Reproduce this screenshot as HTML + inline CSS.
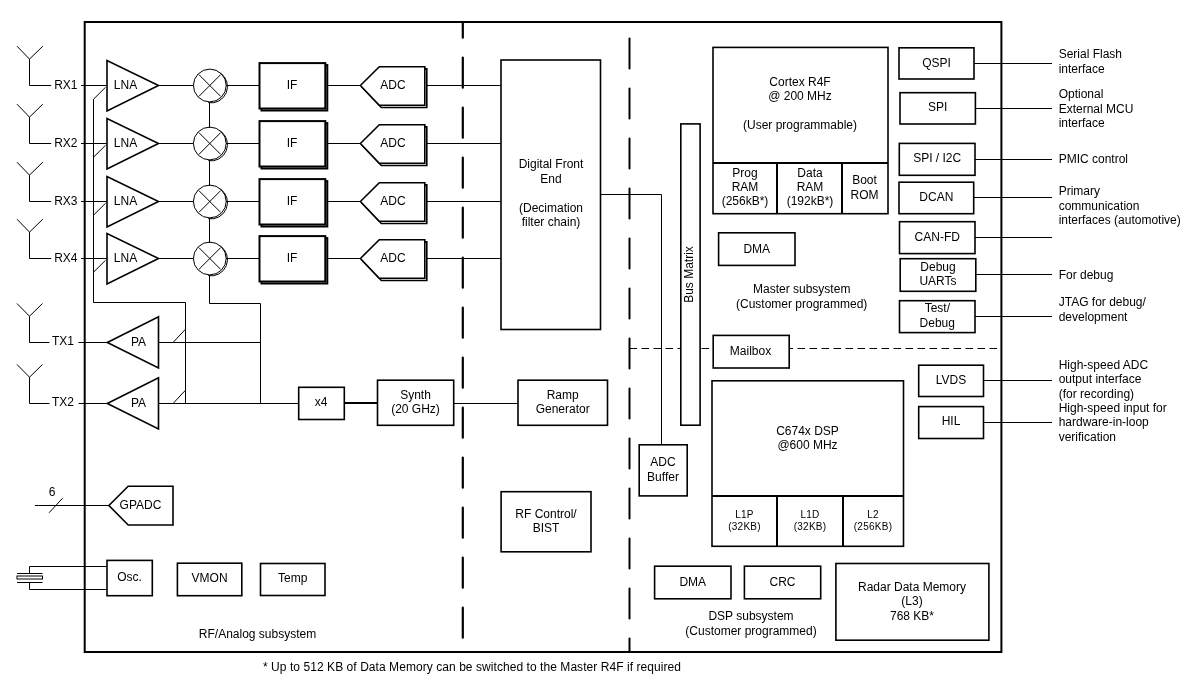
<!DOCTYPE html>
<html><head><meta charset="utf-8"><style>
html,body{margin:0;padding:0;background:#fff;width:1196px;height:684px;overflow:hidden}
svg{display:block;will-change:transform}
svg text{font-family:"Liberation Sans",sans-serif;fill:#000;stroke:none}
</style></head><body>
<svg width="1196" height="684" viewBox="0 0 1196 684" stroke="#000" fill="none">
<rect x="84.7" y="22" width="916.7" height="630" stroke-width="2" fill="none"/>
<line x1="462.8" y1="22" x2="462.8" y2="652" stroke-width="2.2" stroke-linecap="round" stroke-dasharray="30 20" stroke-dashoffset="14.3"/>
<line x1="629.5" y1="22" x2="629.5" y2="652" stroke-width="2" stroke-linecap="round" stroke-dasharray="30 20" stroke-dashoffset="33.6"/>
<line x1="629.5" y1="348.5" x2="1001" y2="348.5" stroke-width="1" stroke-dasharray="7.5 4.5"/>
<polyline points="17,46.2 29.5,59.1 42.8,46.2" stroke-width="1" fill="none"/>
<polyline points="29.5,59.1 29.5,85.5 51.2,85.5" stroke-width="1" fill="none"/>
<text x="65.8" y="88.9" font-size="12" text-anchor="middle" >RX1</text>
<line x1="81" y1="85.5" x2="107" y2="85.5" stroke-width="1"/>
<polygon points="107,60.5 107,111.0 158.5,85.5" stroke-width="1.6" fill="#fff"/>
<text x="125.5" y="88.8" font-size="12" text-anchor="middle" >LNA</text>
<line x1="93.5" y1="99.2" x2="105.5" y2="87.3" stroke-width="1"/>
<line x1="158.5" y1="85.5" x2="194" y2="85.5" stroke-width="1"/>
<circle cx="209.8" cy="85.5" r="16.4" stroke-width="1" fill="#fff"/>
<path d="M 220.51,73.07 A 16.4 16.4 0 0 1 208.25,102.65" stroke-width="1" fill="none"/>
<line x1="198.9" y1="74.6" x2="220.70000000000002" y2="96.4" stroke-width="1"/>
<line x1="220.70000000000002" y1="74.6" x2="198.9" y2="96.4" stroke-width="1"/>
<line x1="226" y1="85.5" x2="259.5" y2="85.5" stroke-width="1"/>
<rect x="261.5" y="65.1" width="65.8" height="45.4" stroke-width="2" fill="#fff"/>
<rect x="259.5" y="63.1" width="65.8" height="45.4" stroke-width="2" fill="#fff"/>
<text x="292" y="88.8" font-size="12" text-anchor="middle" >IF</text>
<line x1="327" y1="85.5" x2="360.4" y2="85.5" stroke-width="1"/>
<polygon points="362.4,87.5 381.3,68.9 426.8,68.9 426.8,107.5 381.3,107.5" stroke-width="1.6" fill="#fff"/>
<polygon points="360.4,85.5 379.3,66.7 424.8,66.7 424.8,105.3 379.3,105.3" stroke-width="1.6" fill="#fff"/>
<text x="393" y="88.8" font-size="12" text-anchor="middle" >ADC</text>
<line x1="427" y1="85.5" x2="501" y2="85.5" stroke-width="1"/>
<polyline points="17,104.2 29.5,117.1 42.8,104.2" stroke-width="1" fill="none"/>
<polyline points="29.5,117.1 29.5,143.5 51.2,143.5" stroke-width="1" fill="none"/>
<text x="65.8" y="146.9" font-size="12" text-anchor="middle" >RX2</text>
<line x1="81" y1="143.5" x2="107" y2="143.5" stroke-width="1"/>
<polygon points="107,118.5 107,169.0 158.5,143.5" stroke-width="1.6" fill="#fff"/>
<text x="125.5" y="146.8" font-size="12" text-anchor="middle" >LNA</text>
<line x1="93.5" y1="157.2" x2="105.5" y2="145.3" stroke-width="1"/>
<line x1="158.5" y1="143.5" x2="194" y2="143.5" stroke-width="1"/>
<circle cx="209.8" cy="143.5" r="16.4" stroke-width="1" fill="#fff"/>
<path d="M 220.51,131.07 A 16.4 16.4 0 0 1 208.25,160.65" stroke-width="1" fill="none"/>
<line x1="198.9" y1="132.6" x2="220.70000000000002" y2="154.4" stroke-width="1"/>
<line x1="220.70000000000002" y1="132.6" x2="198.9" y2="154.4" stroke-width="1"/>
<line x1="226" y1="143.5" x2="259.5" y2="143.5" stroke-width="1"/>
<rect x="261.5" y="123.1" width="65.8" height="45.4" stroke-width="2" fill="#fff"/>
<rect x="259.5" y="121.1" width="65.8" height="45.4" stroke-width="2" fill="#fff"/>
<text x="292" y="146.8" font-size="12" text-anchor="middle" >IF</text>
<line x1="327" y1="143.5" x2="360.4" y2="143.5" stroke-width="1"/>
<polygon points="362.4,145.5 381.3,126.9 426.8,126.9 426.8,165.5 381.3,165.5" stroke-width="1.6" fill="#fff"/>
<polygon points="360.4,143.5 379.3,124.7 424.8,124.7 424.8,163.3 379.3,163.3" stroke-width="1.6" fill="#fff"/>
<text x="393" y="146.8" font-size="12" text-anchor="middle" >ADC</text>
<line x1="427" y1="143.5" x2="501" y2="143.5" stroke-width="1"/>
<polyline points="17,162.2 29.5,175.1 42.8,162.2" stroke-width="1" fill="none"/>
<polyline points="29.5,175.1 29.5,201.5 51.2,201.5" stroke-width="1" fill="none"/>
<text x="65.8" y="204.9" font-size="12" text-anchor="middle" >RX3</text>
<line x1="81" y1="201.5" x2="107" y2="201.5" stroke-width="1"/>
<polygon points="107,176.5 107,227.0 158.5,201.5" stroke-width="1.6" fill="#fff"/>
<text x="125.5" y="204.8" font-size="12" text-anchor="middle" >LNA</text>
<line x1="93.5" y1="215.2" x2="105.5" y2="203.3" stroke-width="1"/>
<line x1="158.5" y1="201.5" x2="194" y2="201.5" stroke-width="1"/>
<circle cx="209.8" cy="201.5" r="16.4" stroke-width="1" fill="#fff"/>
<path d="M 220.51,189.07 A 16.4 16.4 0 0 1 208.25,218.65" stroke-width="1" fill="none"/>
<line x1="198.9" y1="190.6" x2="220.70000000000002" y2="212.4" stroke-width="1"/>
<line x1="220.70000000000002" y1="190.6" x2="198.9" y2="212.4" stroke-width="1"/>
<line x1="226" y1="201.5" x2="259.5" y2="201.5" stroke-width="1"/>
<rect x="261.5" y="181.1" width="65.8" height="45.4" stroke-width="2" fill="#fff"/>
<rect x="259.5" y="179.1" width="65.8" height="45.4" stroke-width="2" fill="#fff"/>
<text x="292" y="204.8" font-size="12" text-anchor="middle" >IF</text>
<line x1="327" y1="201.5" x2="360.4" y2="201.5" stroke-width="1"/>
<polygon points="362.4,203.5 381.3,184.9 426.8,184.9 426.8,223.5 381.3,223.5" stroke-width="1.6" fill="#fff"/>
<polygon points="360.4,201.5 379.3,182.7 424.8,182.7 424.8,221.3 379.3,221.3" stroke-width="1.6" fill="#fff"/>
<text x="393" y="204.8" font-size="12" text-anchor="middle" >ADC</text>
<line x1="427" y1="201.5" x2="501" y2="201.5" stroke-width="1"/>
<polyline points="17,219.2 29.5,232.1 42.8,219.2" stroke-width="1" fill="none"/>
<polyline points="29.5,232.1 29.5,258.5 51.2,258.5" stroke-width="1" fill="none"/>
<text x="65.8" y="261.9" font-size="12" text-anchor="middle" >RX4</text>
<line x1="81" y1="258.5" x2="107" y2="258.5" stroke-width="1"/>
<polygon points="107,233.5 107,284.0 158.5,258.5" stroke-width="1.6" fill="#fff"/>
<text x="125.5" y="261.8" font-size="12" text-anchor="middle" >LNA</text>
<line x1="93.5" y1="272.2" x2="105.5" y2="260.3" stroke-width="1"/>
<line x1="158.5" y1="258.5" x2="194" y2="258.5" stroke-width="1"/>
<circle cx="209.8" cy="258.5" r="16.4" stroke-width="1" fill="#fff"/>
<path d="M 220.51,246.07 A 16.4 16.4 0 0 1 208.25,275.65" stroke-width="1" fill="none"/>
<line x1="198.9" y1="247.6" x2="220.70000000000002" y2="269.4" stroke-width="1"/>
<line x1="220.70000000000002" y1="247.6" x2="198.9" y2="269.4" stroke-width="1"/>
<line x1="226" y1="258.5" x2="259.5" y2="258.5" stroke-width="1"/>
<rect x="261.5" y="238.1" width="65.8" height="45.4" stroke-width="2" fill="#fff"/>
<rect x="259.5" y="236.1" width="65.8" height="45.4" stroke-width="2" fill="#fff"/>
<text x="292" y="261.8" font-size="12" text-anchor="middle" >IF</text>
<line x1="327" y1="258.5" x2="360.4" y2="258.5" stroke-width="1"/>
<polygon points="362.4,260.5 381.3,241.9 426.8,241.9 426.8,280.5 381.3,280.5" stroke-width="1.6" fill="#fff"/>
<polygon points="360.4,258.5 379.3,239.7 424.8,239.7 424.8,278.3 379.3,278.3" stroke-width="1.6" fill="#fff"/>
<text x="393" y="261.8" font-size="12" text-anchor="middle" >ADC</text>
<line x1="427" y1="258.5" x2="501" y2="258.5" stroke-width="1"/>
<line x1="209.5" y1="102.0" x2="209.5" y2="128.0" stroke-width="1"/>
<line x1="209.5" y1="160.0" x2="209.5" y2="186.0" stroke-width="1"/>
<line x1="209.5" y1="218.0" x2="209.5" y2="243.0" stroke-width="1"/>
<polyline points="209.5,275.0 209.5,303.5 260.5,303.5 260.5,403.5" stroke-width="1" fill="none"/>
<polyline points="93.5,99.2 93.5,302.5 185.5,302.5 185.5,403.5" stroke-width="1" fill="none"/>
<rect x="501" y="60" width="99.5" height="269.5" stroke-width="1.6" fill="#fff"/>
<text x="551" y="168.4" font-size="12" text-anchor="middle" >Digital Front</text>
<text x="551" y="182.9" font-size="12" text-anchor="middle" >End</text>
<text x="551" y="211.9" font-size="12" text-anchor="middle" >(Decimation</text>
<text x="551" y="226.4" font-size="12" text-anchor="middle" >filter chain)</text>
<polyline points="600.5,194.5 661.5,194.5 661.5,445" stroke-width="1" fill="none"/>
<polyline points="17,303.5 29.5,316.2 42.5,303.5" stroke-width="1" fill="none"/>
<polyline points="29.5,316.2 29.5,342.5 49.5,342.5" stroke-width="1" fill="none"/>
<text x="62.9" y="345.2" font-size="12" text-anchor="middle" >TX1</text>
<line x1="78.5" y1="342.5" x2="107.3" y2="342.5" stroke-width="1"/>
<polygon points="107.3,342.5 158.5,316.7 158.5,368.0" stroke-width="1.6" fill="#fff"/>
<text x="138.5" y="345.8" font-size="12" text-anchor="middle" >PA</text>
<line x1="173" y1="342.5" x2="185.5" y2="329.2" stroke-width="1"/>
<polyline points="17,364.5 29.5,377.2 42.5,364.5" stroke-width="1" fill="none"/>
<polyline points="29.5,377.2 29.5,403.5 49.5,403.5" stroke-width="1" fill="none"/>
<text x="62.9" y="406.2" font-size="12" text-anchor="middle" >TX2</text>
<line x1="78.5" y1="403.5" x2="107.3" y2="403.5" stroke-width="1"/>
<polygon points="107.3,403.5 158.5,377.7 158.5,429.0" stroke-width="1.6" fill="#fff"/>
<text x="138.5" y="406.8" font-size="12" text-anchor="middle" >PA</text>
<line x1="173" y1="403.5" x2="185.5" y2="390.2" stroke-width="1"/>
<line x1="158.5" y1="342.5" x2="260.5" y2="342.5" stroke-width="1"/>
<line x1="158.5" y1="403.5" x2="298.7" y2="403.5" stroke-width="1"/>
<rect x="298.7" y="387.3" width="45.6" height="32.2" stroke-width="1.6" fill="#fff"/>
<text x="321" y="405.8" font-size="12" text-anchor="middle" >x4</text>
<line x1="344.3" y1="403" x2="377.5" y2="403" stroke-width="2"/>
<rect x="377.5" y="380.2" width="76.2" height="45.1" stroke-width="1.6" fill="#fff"/>
<text x="415.5" y="398.5" font-size="12" text-anchor="middle" >Synth</text>
<text x="415.5" y="413.1" font-size="12" text-anchor="middle" >(20 GHz)</text>
<line x1="453.7" y1="403.5" x2="518" y2="403.5" stroke-width="1"/>
<rect x="518" y="380.2" width="89.5" height="45.1" stroke-width="1.6" fill="#fff"/>
<text x="562.7" y="398.5" font-size="12" text-anchor="middle" >Ramp</text>
<text x="562.7" y="413.1" font-size="12" text-anchor="middle" >Generator</text>
<line x1="35" y1="505.5" x2="108.9" y2="505.5" stroke-width="1"/>
<line x1="49" y1="512.8" x2="62.6" y2="498.2" stroke-width="1"/>
<text x="52" y="495.8" font-size="12" text-anchor="middle" >6</text>
<polygon points="108.9,505.5 128.2,486.3 173,486.3 173,525 128.2,525" stroke-width="1.6" fill="#fff"/>
<text x="140.5" y="508.8" font-size="12" text-anchor="middle" >GPADC</text>
<polyline points="29.5,573.5 29.5,566.5 107,566.5" stroke-width="1" fill="none"/>
<polyline points="29.5,582.5 29.5,589.5 107,589.5" stroke-width="1" fill="none"/>
<line x1="17" y1="573.5" x2="42.5" y2="573.5" stroke-width="1"/>
<rect x="17" y="576" width="25.5" height="3" stroke-width="1" fill="#fff"/>
<line x1="17" y1="582.5" x2="42.5" y2="582.5" stroke-width="1"/>
<rect x="107" y="560.4" width="45.3" height="35.3" stroke-width="1.6" fill="#fff"/>
<text x="129.6" y="580.7" font-size="12" text-anchor="middle" >Osc.</text>
<rect x="177.4" y="563.2" width="64.4" height="32.5" stroke-width="1.6" fill="#fff"/>
<text x="209.6" y="582.3" font-size="12" text-anchor="middle" >VMON</text>
<rect x="260.5" y="563.5" width="64.5" height="32.0" stroke-width="1.6" fill="#fff"/>
<text x="292.7" y="582.2" font-size="12" text-anchor="middle" >Temp</text>
<text x="257.5" y="637.5" font-size="12" text-anchor="middle" >RF/Analog subsystem</text>
<rect x="501.1" y="491.7" width="89.9" height="60.1" stroke-width="1.6" fill="#fff"/>
<text x="546" y="517.5" font-size="12" text-anchor="middle" >RF Control/</text>
<text x="546" y="532.1" font-size="12" text-anchor="middle" >BIST</text>
<rect x="680.8" y="123.9" width="19.3" height="301.3" stroke-width="1.6" fill="#fff"/>
<text x="0" y="0" font-size="12" text-anchor="middle" transform="translate(692.8,274.5) rotate(-90)">Bus Matrix</text>
<rect x="713" y="47.4" width="175" height="166.3" stroke-width="1.6" fill="#fff"/>
<line x1="713" y1="163" x2="888" y2="163" stroke-width="2"/>
<line x1="777" y1="163" x2="777" y2="213.7" stroke-width="2"/>
<line x1="842" y1="163" x2="842" y2="213.7" stroke-width="2"/>
<text x="800" y="85.9" font-size="12" text-anchor="middle" >Cortex R4F</text>
<text x="800" y="100.3" font-size="12" text-anchor="middle" >@ 200 MHz</text>
<text x="800" y="129.1" font-size="12" text-anchor="middle" >(User programmable)</text>
<text x="745" y="176.8" font-size="12" text-anchor="middle" >Prog</text>
<text x="745" y="191.1" font-size="12" text-anchor="middle" >RAM</text>
<text x="745" y="205.4" font-size="12" text-anchor="middle" >(256kB*)</text>
<text x="810" y="176.8" font-size="12" text-anchor="middle" >Data</text>
<text x="810" y="191.1" font-size="12" text-anchor="middle" >RAM</text>
<text x="810" y="205.4" font-size="12" text-anchor="middle" >(192kB*)</text>
<text x="864.5" y="184.2" font-size="12" text-anchor="middle" >Boot</text>
<text x="864.5" y="198.5" font-size="12" text-anchor="middle" >ROM</text>
<line x1="974" y1="63.5" x2="1052" y2="63.5" stroke-width="1"/>
<rect x="899" y="47.8" width="75" height="31.2" stroke-width="1.6" fill="#fff"/>
<text x="936.5" y="66.5" font-size="12" text-anchor="middle" >QSPI</text>
<line x1="975.4" y1="108.5" x2="1052" y2="108.5" stroke-width="1"/>
<rect x="900" y="92.7" width="75.4" height="31.3" stroke-width="1.6" fill="#fff"/>
<text x="937.7" y="111.44999999999999" font-size="12" text-anchor="middle" >SPI</text>
<line x1="975" y1="159.5" x2="1052" y2="159.5" stroke-width="1"/>
<rect x="899.3" y="143.4" width="75.7" height="31.9" stroke-width="1.6" fill="#fff"/>
<text x="937.15" y="162.45000000000002" font-size="12" text-anchor="middle" >SPI / I2C</text>
<line x1="973.7" y1="197.5" x2="1052" y2="197.5" stroke-width="1"/>
<rect x="899" y="182.2" width="74.7" height="31.5" stroke-width="1.6" fill="#fff"/>
<text x="936.35" y="201.04999999999998" font-size="12" text-anchor="middle" >DCAN</text>
<line x1="975" y1="237.5" x2="1052" y2="237.5" stroke-width="1"/>
<rect x="899.5" y="221.7" width="75.5" height="31.9" stroke-width="1.6" fill="#fff"/>
<text x="937.25" y="240.74999999999997" font-size="12" text-anchor="middle" >CAN-FD</text>
<line x1="975.8" y1="274.5" x2="1052" y2="274.5" stroke-width="1"/>
<rect x="900.2" y="258.7" width="75.6" height="32.6" stroke-width="1.6" fill="#fff"/>
<text x="938" y="270.5" font-size="12" text-anchor="middle" >Debug</text>
<text x="938" y="285.1" font-size="12" text-anchor="middle" >UARTs</text>
<line x1="975" y1="316.5" x2="1052" y2="316.5" stroke-width="1"/>
<rect x="899.5" y="300.7" width="75.5" height="31.9" stroke-width="1.6" fill="#fff"/>
<text x="937.3" y="312.3" font-size="12" text-anchor="middle" >Test/</text>
<text x="937.3" y="326.9" font-size="12" text-anchor="middle" >Debug</text>
<rect x="718.6" y="232.8" width="76.4" height="32.6" stroke-width="1.6" fill="#fff"/>
<text x="756.8" y="253.3" font-size="12" text-anchor="middle" >DMA</text>
<text x="801.7" y="293.3" font-size="12" text-anchor="middle" >Master subsystem</text>
<text x="801.7" y="307.9" font-size="12" text-anchor="middle" >(Customer programmed)</text>
<rect x="713.2" y="335.4" width="76.0" height="32.6" stroke-width="1.6" fill="#fff"/>
<text x="750.5" y="354.5" font-size="12" text-anchor="middle" >Mailbox</text>
<text x="1058.7" y="58.0" font-size="12" text-anchor="start" >Serial Flash</text>
<text x="1058.7" y="72.6" font-size="12" text-anchor="start" >interface</text>
<text x="1058.7" y="98.0" font-size="12" text-anchor="start" >Optional</text>
<text x="1058.7" y="112.6" font-size="12" text-anchor="start" >External MCU</text>
<text x="1058.7" y="127.2" font-size="12" text-anchor="start" >interface</text>
<text x="1058.7" y="162.7" font-size="12" text-anchor="start" >PMIC control</text>
<text x="1058.7" y="195.0" font-size="12" text-anchor="start" >Primary</text>
<text x="1058.7" y="209.6" font-size="12" text-anchor="start" >communication</text>
<text x="1058.7" y="224.2" font-size="12" text-anchor="start" >interfaces (automotive)</text>
<text x="1058.7" y="279.2" font-size="12" text-anchor="start" >For debug</text>
<text x="1058.7" y="306.0" font-size="12" text-anchor="start" >JTAG for debug/</text>
<text x="1058.7" y="320.6" font-size="12" text-anchor="start" >development</text>
<text x="1058.7" y="368.8" font-size="12" text-anchor="start" >High-speed ADC</text>
<text x="1058.7" y="383.4" font-size="12" text-anchor="start" >output interface</text>
<text x="1058.7" y="398.0" font-size="12" text-anchor="start" >(for recording)</text>
<text x="1058.7" y="411.5" font-size="12" text-anchor="start" >High-speed input for</text>
<text x="1058.7" y="426.1" font-size="12" text-anchor="start" >hardware-in-loop</text>
<text x="1058.7" y="440.7" font-size="12" text-anchor="start" >verification</text>
<line x1="983.5" y1="380.5" x2="1052" y2="380.5" stroke-width="1"/>
<rect x="918.7" y="365.2" width="64.8" height="31.3" stroke-width="1.6" fill="#fff"/>
<text x="951" y="383.7" font-size="12" text-anchor="middle" >LVDS</text>
<line x1="983.5" y1="422.5" x2="1052" y2="422.5" stroke-width="1"/>
<rect x="918.7" y="406.6" width="64.8" height="31.9" stroke-width="1.6" fill="#fff"/>
<text x="951" y="425.4" font-size="12" text-anchor="middle" >HIL</text>
<rect x="712" y="380.8" width="191.5" height="165.5" stroke-width="1.6" fill="#fff"/>
<line x1="712" y1="496" x2="903.5" y2="496" stroke-width="2"/>
<line x1="777" y1="495.6" x2="777" y2="546.3" stroke-width="2"/>
<line x1="843" y1="495.6" x2="843" y2="546.3" stroke-width="2"/>
<text x="807.5" y="434.5" font-size="12" text-anchor="middle" >C674x DSP</text>
<text x="807.5" y="449.1" font-size="12" text-anchor="middle" >@600 MHz</text>
<text x="744.5" y="517.5" font-size="10" text-anchor="middle" letter-spacing="0.25">L1P</text>
<text x="744.5" y="530.2" font-size="10" text-anchor="middle" letter-spacing="0.25">(32KB)</text>
<text x="810" y="517.5" font-size="10" text-anchor="middle" letter-spacing="0.25">L1D</text>
<text x="810" y="530.2" font-size="10" text-anchor="middle" letter-spacing="0.25">(32KB)</text>
<text x="873" y="517.5" font-size="10" text-anchor="middle" letter-spacing="0.25">L2</text>
<text x="873" y="530.2" font-size="10" text-anchor="middle" letter-spacing="0.25">(256KB)</text>
<rect x="639.2" y="444.8" width="48.0" height="51.1" stroke-width="1.6" fill="#fff"/>
<text x="663" y="466.3" font-size="12" text-anchor="middle" >ADC</text>
<text x="663" y="480.9" font-size="12" text-anchor="middle" >Buffer</text>
<rect x="654.6" y="566.2" width="76.4" height="32.6" stroke-width="1.6" fill="#fff"/>
<text x="692.8" y="585.6" font-size="12" text-anchor="middle" >DMA</text>
<rect x="744.4" y="566.2" width="76.3" height="32.6" stroke-width="1.6" fill="#fff"/>
<text x="782.5" y="585.6" font-size="12" text-anchor="middle" >CRC</text>
<text x="751" y="620.3" font-size="12" text-anchor="middle" >DSP subsystem</text>
<text x="751" y="634.9" font-size="12" text-anchor="middle" >(Customer programmed)</text>
<rect x="835.9" y="563.5" width="153.0" height="76.7" stroke-width="1.6" fill="#fff"/>
<text x="912" y="590.7" font-size="12" text-anchor="middle" >Radar Data Memory</text>
<text x="912" y="605.3" font-size="12" text-anchor="middle" >(L3)</text>
<text x="912" y="619.9" font-size="12" text-anchor="middle" >768 KB*</text>
<text x="263" y="670.5" font-size="12" text-anchor="start" letter-spacing="0.06">* Up to 512 KB of Data Memory can be switched to the Master R4F if required</text>
</svg>
</body></html>
